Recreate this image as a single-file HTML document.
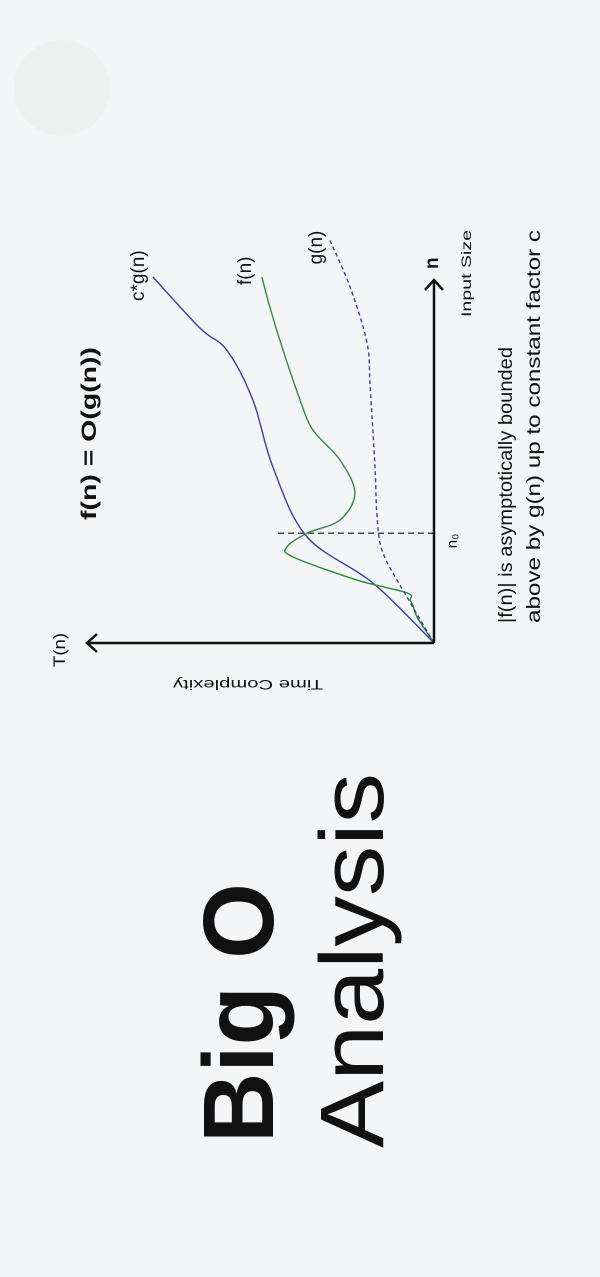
<!DOCTYPE html>
<html><head><meta charset="utf-8">
<style>
html,body{margin:0;padding:0;background:#f4f5f6;}
svg{display:block;}
text{font-family:"Liberation Sans",sans-serif;fill:#111;}
</style></head>
<body>
<svg width="600" height="1277" viewBox="0 0 600 1277">
<rect width="600" height="1277" fill="#f4f5f6"/>
<circle cx="62" cy="88" r="48" fill="#eff1f0"/>
<g id="rot" transform="translate(0,1277) rotate(-90)">
  <text x="134" y="273" font-size="100" font-weight="bold" textLength="260" lengthAdjust="spacingAndGlyphs">Big O</text>
  <text x="129" y="383" font-size="90" textLength="375" lengthAdjust="spacingAndGlyphs">Analysis</text>
  <text x="757" y="96" font-size="21" font-weight="bold" textLength="173" lengthAdjust="spacingAndGlyphs">f(n) = O(g(n))</text>
  <g id="chart"></g>
  <text x="610" y="65" font-size="17" textLength="34" lengthAdjust="spacingAndGlyphs">T(n)</text>
  <text transform="translate(597,248) rotate(-90)" text-anchor="middle" font-size="14" textLength="150" lengthAdjust="spacingAndGlyphs">Time Complexity</text>
  <text x="1008" y="438" font-size="19" font-weight="bold">n</text>
  <text x="960" y="471" font-size="14" textLength="87" lengthAdjust="spacingAndGlyphs">Input Size</text>
  <text x="654" y="512" font-size="19.5" textLength="276" lengthAdjust="spacingAndGlyphs">|f(n)| is asymptotically bounded</text>
  <text x="654" y="540" font-size="19.5" textLength="393" lengthAdjust="spacingAndGlyphs">above by g(n) up to constant factor c</text>
</g>
</svg>
<script>
const cgN = [0, 16.4, 29, 48, 66.4, 80, 86, 100];
const cgT = [0, 17.6, 36.6, 46.4, 52.2, 59.7, 67.4, 81];
const fN = [0, 7.1, 10.4, 11.7, 13.7, 17.2, 23.5, 26.2, 30, 33.6, 41, 50, 58.2, 66.4, 80, 91.8, 100];
const fT = [0, 4.9, 6.1, 6.9, 7.8, 22.2, 40.6, 42.4, 36.6, 27.1, 22.8, 27.1, 34.9, 38.6, 43.5, 47.3, 49.6];
const gN = [0, 12.6, 24.6, 34.4, 48, 70, 82, 97.3, 110];
const gT = [0, 7.8, 14.7, 16.4, 17, 18.4, 19.3, 24.2, 30];
const n0 = 30;
const n0Top = 45;
const labels = ["c*g(n)", "f(n)", "g(n)"];

const NS = "http://www.w3.org/2000/svg";
const U0 = 634, V0 = 434;
function xs(n){ return U0 + n * 3.66; }
function ys(t){ return V0 - t * 3.47; }
const chart = document.getElementById('chart');
function mk(tag, attrs){ const e = document.createElementNS(NS, tag); for (const k in attrs) e.setAttribute(k, attrs[k]); chart.appendChild(e); return e; }
function smooth(N, T){
  const p = N.map((n,i)=>[xs(n), ys(T[i])]);
  let d = "M" + p[0][0] + "," + p[0][1];
  for (let i=0;i<p.length-1;i++){
    const a = p[Math.max(i-1,0)], b = p[i], c = p[i+1], e = p[Math.min(i+2,p.length-1)];
    const c1 = [b[0]+(c[0]-a[0])/6, b[1]+(c[1]-a[1])/6];
    const c2 = [c[0]-(e[0]-b[0])/6, c[1]-(e[1]-b[1])/6];
    d += " C"+c1[0]+","+c1[1]+" "+c2[0]+","+c2[1]+" "+c[0]+","+c[1];
  }
  return d;
}
const dl = mk('line', {x1: xs(n0), y1: V0, x2: xs(n0), y2: ys(n0Top), stroke: '#111', 'stroke-width': 1.2, 'stroke-dasharray': '6,4'});


const n0t = mk('text', {x: xs(n0) - 15, y: V0 + 23, 'font-size': 15});
n0t.textContent = 'n₀';


const cg = mk('path', {d: smooth(cgN, cgT), fill: 'none', stroke: '#3d3d9e', 'stroke-width': 1.4});


const fc = mk('path', {d: smooth(fN, fT), fill: 'none', stroke: '#2f8a40', 'stroke-width': 1.4});


const gc = mk('path', {d: smooth(gN, gT), fill: 'none', stroke: '#3d3d9e', 'stroke-width': 1.4, 'stroke-dasharray': '4,3'});


const ax = mk('path', {d: 'M'+U0+','+(V0)+' L'+U0+',87 M'+(U0-9)+',97 L'+U0+',87 L'+(U0+9)+',97', fill: 'none', stroke: '#111', 'stroke-width': 2.5});


const bx = mk('path', {d: 'M'+U0+','+V0+' L997,'+V0+' M987,'+(V0-9)+' L997,'+V0+' L987,'+(V0+9), fill: 'none', stroke: '#111', 'stroke-width': 2.5});


const series = [[cgN, cgT, -24, -9], [fN, fT, -8, -11], [gN, gT, -24, -8]];
series.forEach((s, i) => {
  const N = s[0], T = s[1];
  const t = mk('text', {x: xs(N[N.length-1]) + s[2], y: ys(T[T.length-1]) + s[3], 'font-size': 19});
  t.textContent = labels[i];
  
  
});
</script>
</body></html>
